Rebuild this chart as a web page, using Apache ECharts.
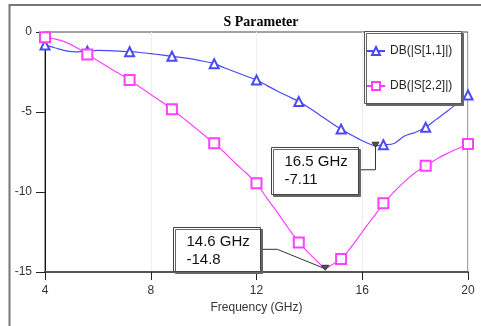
<!DOCTYPE html>
<html><head><meta charset="utf-8">
<script src="https://cdn.jsdelivr.net/npm/echarts@6/dist/echarts.min.js"></script>
<style>html,body{margin:0;padding:0;background:#fff}#c{width:481px;height:326px}</style>
</head><body><div id="c"></div>
<script>
const freqs = [4,4.4,4.8,5.2,5.6,6,6.4,6.8,7.2,7.6,8,8.4,8.8,9.2,9.6,10,10.4,10.8,11.2,11.6,12,12.4,12.8,13.2,13.6,14,14.4,14.6,14.8,15.2,15.6,16,16.4,16.5,16.8,17.2,17.6,18,18.4,18.8,19.2,19.6,20];
const s11 = [-0.81,-1.0,-1.18,-1.24,-1.2,-1.15,-1.17,-1.2,-1.23,-1.28,-1.35,-1.43,-1.52,-1.6,-1.7,-1.83,-1.98,-2.25,-2.5,-2.75,-3.0,-3.35,-3.7,-4.02,-4.35,-4.75,-5.2,-5.42,-5.65,-6.07,-6.45,-6.8,-7.08,-7.11,-7.05,-6.97,-6.5,-6.28,-5.96,-5.46,-4.97,-4.45,-3.94];
const s22 = [-0.33,-0.45,-0.65,-0.98,-1.4,-1.8,-2.2,-2.6,-3.0,-3.45,-3.9,-4.35,-4.83,-5.35,-5.88,-6.42,-6.96,-7.55,-8.2,-8.8,-9.46,-10.4,-11.3,-12.25,-13.15,-13.85,-14.5,-14.8,-14.6,-14.19,-13.4,-12.5,-11.6,-11.4,-10.71,-10.0,-9.35,-8.8,-8.36,-7.95,-7.6,-7.3,-7.0];
const markerFreqs = [4,5.6,7.2,8.8,10.4,12,13.6,15.2,16.8,18.4,20];
const seriesNames = ['DB(|S[1,1]|)','DB(|S[2,2]|)'];
const annFreqs = [16.5, 14.6];
const annValues = [-7.11, -14.8];
const annLabels = ['16.5 GHz\n-7.11', '14.6 GHz\n-14.8'];
const titleText = 'S Parameter';
const xName = 'Frequency (GHz)';

// styling / layout (offsets relative to the annotated point)
const annLayout = [
  {box:[-104,1,87,47], leader:[[0,0],[0,24],[-17,24]]},
  {box:[-152,-42,87,44], leader:[[0,0],[-48,-19.5],[-65,-19.5]]}
];
const FONT = '"Liberation Sans", Arial, sans-serif';

function buildData(vals){
  return freqs.map((f,i)=>{
    const isM = markerFreqs.some(m=>Math.abs(m-f)<1e-6);
    return isM ? {value:[f, vals[i]]} : {value:[f, vals[i]], symbol:'none'};
  });
}

const chart = echarts.init(document.getElementById('c'), null, {renderer:'canvas'});
chart.setOption({
  animation:false,
  backgroundColor:'#fff',
  title:{text:titleText, left:256, textAlign:'center', top:10,
    textStyle:{fontFamily:'"Liberation Serif", "Times New Roman", serif', fontWeight:'bold', fontSize:14, color:'#000'}},
  grid:{left:45, top:32, width:423, height:240, show:true, borderColor:'#444', borderWidth:1, containLabel:false},
  legend:{orient:'vertical', left:361, top:40, itemWidth:18, itemHeight:10, itemGap:23,
    data:seriesNames, textStyle:{fontFamily:FONT, fontSize:12, color:'#222'}, selectedMode:false, z:10},
  xAxis:{type:'value', min:4, max:20, interval:4,
    axisLine:{show:true, onZero:false, lineStyle:{color:'#555', width:2}},
    axisTick:{show:true, length:8, lineStyle:{color:'#222'}},
    axisLabel:{color:'#333', fontSize:12, margin:13, fontFamily:FONT},
    splitLine:{show:true, lineStyle:{color:'#efefef'}},
    name:xName, nameLocation:'middle', nameGap:30,
    nameTextStyle:{color:'#333', fontSize:12, fontFamily:FONT}},
  yAxis:{type:'value', min:-15, max:0, interval:5,
    axisLine:{show:true, onZero:false, lineStyle:{color:'#111'}},
    axisTick:{show:true, length:9, lineStyle:{color:'#222'}},
    axisLabel:{color:'#333', fontSize:12, margin:13, fontFamily:FONT},
    splitLine:{show:false}},
  graphic:[
    {type:'line', shape:{x1:9.5,y1:4,x2:9.5,y2:326}, style:{stroke:'#777', lineWidth:2}, z:1},
    {type:'line', shape:{x1:9,y1:5,x2:481,y2:5}, style:{stroke:'#777', lineWidth:2}, z:1},
    {type:'rect', shape:{x:364.5,y:31.5,width:97,height:72}, style:{fill:'#fff', stroke:'#555', lineWidth:1, shadowColor:'#666', shadowOffsetX:2, shadowOffsetY:2, shadowBlur:0}, z:5}
  ],
  series:[
    {name:seriesNames[0], type:'line', data:buildData(s11), smooth:0.3,
      symbol:'emptyTriangle', symbolSize:9, showSymbol:true, showAllSymbol:true,
      color:'#4a4af5', lineStyle:{width:1.2, color:'#4a4af5'}, itemStyle:{color:'#4a4af5', borderWidth:1.2}, z:3},
    {name:seriesNames[1], type:'line', data:buildData(s22), smooth:0.3,
      symbol:'emptyRect', symbolSize:10, showSymbol:true, showAllSymbol:true,
      color:'#ff40ff', lineStyle:{width:1.2, color:'#ff40ff'}, itemStyle:{color:'#ff40ff', borderWidth:1.2}, z:3},
    {type:'custom', coordinateSystem:'cartesian2d', clip:false, z:6,
      data:annFreqs.map((f,i)=>[f, annValues[i]]),
      renderItem:function(params, api){
        const i = params.dataIndex;
        const p = api.coord([api.value(0), api.value(1)]);
        const L = annLayout[i];
        const bx = Math.round(p[0]+L.box[0])+0.5, by = Math.round(p[1]+L.box[1])+0.5;
        return {type:'group', children:[
          {type:'polyline', shape:{points:L.leader.map(d=>[p[0]+d[0], p[1]+d[1]])}, style:{stroke:'#333', fill:null, lineWidth:1}},
          {type:'rect', shape:{x:bx, y:by, width:L.box[2], height:L.box[3]}, style:{fill:'#fff', stroke:'#444', lineWidth:1, shadowColor:'#666', shadowOffsetX:2, shadowOffsetY:2, shadowBlur:0}},
          {type:'text', x:bx+13, y:by+5, style:{text:annLabels[i], font:'15px '+FONT, fill:'#111', lineHeight:18, verticalAlign:'top', align:'left'}},
          {type:'polygon', shape:{points:[[p[0]-3.5,p[1]-3.5],[p[0]+3.5,p[1]-3.5],[p[0],p[1]+1.5]]}, style:{fill:'#555', stroke:'#333', lineWidth:1}}
        ]};
      }}
  ]
});
</script></body></html>
